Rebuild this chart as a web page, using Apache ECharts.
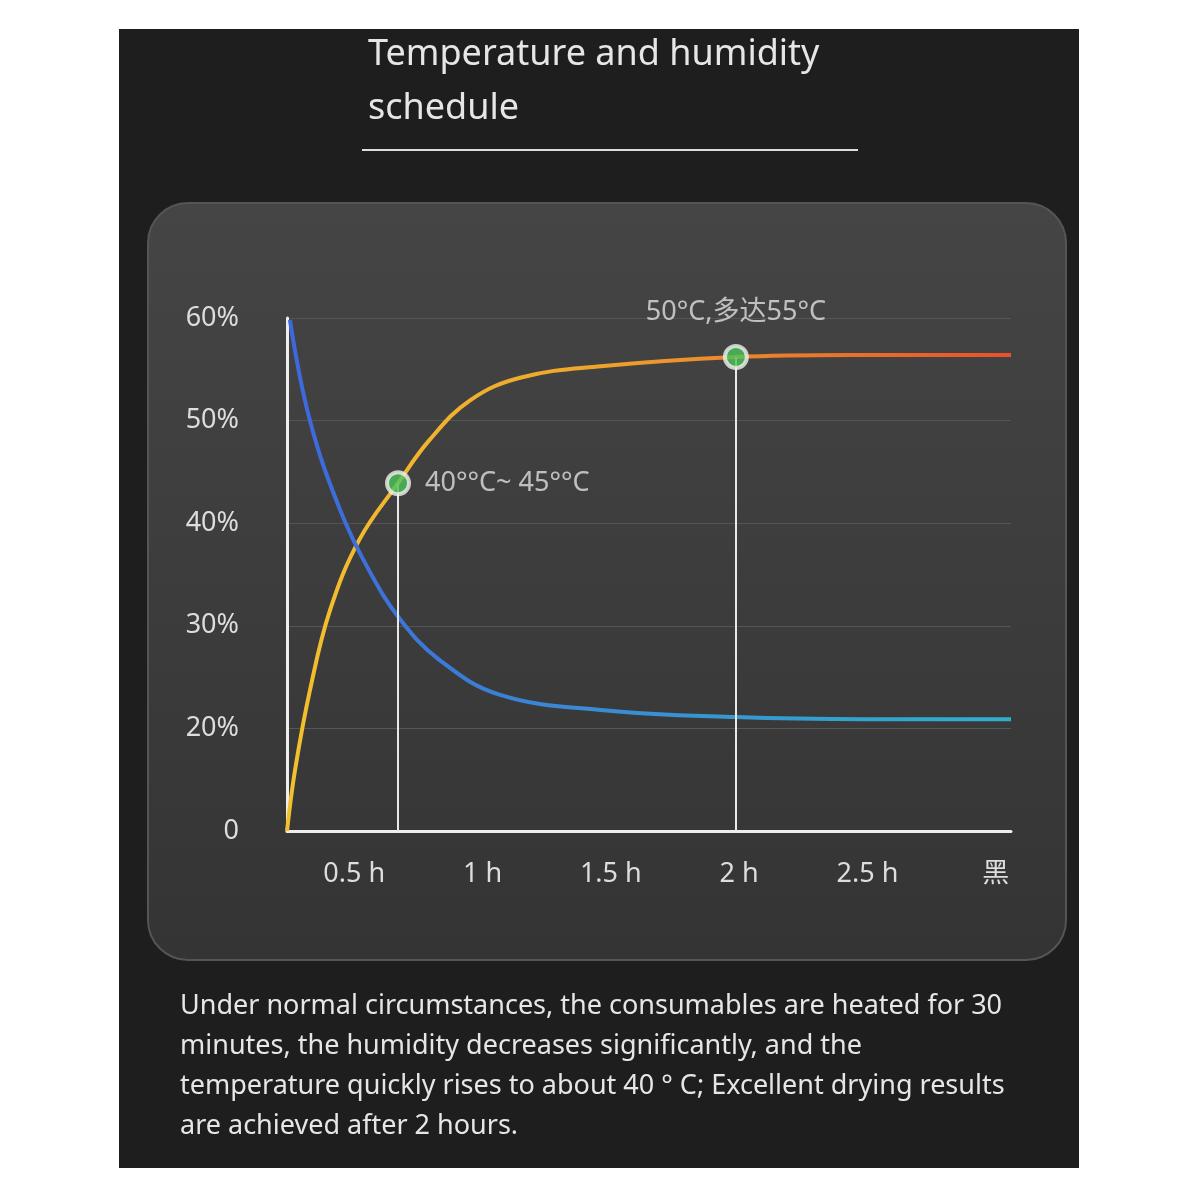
<!DOCTYPE html>
<html>
<head>
<meta charset="utf-8">
<script src="https://cdn.jsdelivr.net/npm/echarts@6/dist/echarts.min.js"></script>
<style>html,body{margin:0;background:#fff}#main{width:1200px;height:1200px}</style>
</head>
<body>
<div id="main"></div>
<script>
// x in hours-ish units across the plot, y in tick steps (labels are uneven)
const yTickLabels = ['0', '20%', '30%', '40%', '50%', '60%'];
const xTickLabels = ['0.5 h', '1 h', '1.5 h', '2 h', '2.5 h', '黑'];
const temperature = [[0, 0], [0.033, 0.59], [0.095, 1.37], [0.178, 2.15], [0.30, 2.84], [0.46, 3.39],
  [0.59, 3.81], [0.76, 4.20], [0.97, 4.42], [1.30, 4.53], [1.86, 4.62], [2.33, 4.64], [3, 4.64]];
const humidity = [[0.012, 4.98], [0.095, 4.0], [0.22, 3.13], [0.34, 2.54], [0.47, 2.06], [0.63, 1.67],
  [0.88, 1.33], [1.30, 1.18], [1.86, 1.11], [2.4, 1.09], [3, 1.09]];
const markers = [[0.46, 3.39, '40°°C~ 45°°C'], [1.86, 4.62, '50°C,多达55°C']];

const bodyText = [
  'Under normal circumstances, the consumables are heated for 30',
  'minutes, the humidity decreases significantly, and the',
  'temperature quickly rises to about 40 ° C; Excellent drying results',
  'are achieved after 2 hours.',
];

const chart = echarts.init(document.getElementById('main'));
const font = '"Noto Sans", "Noto Sans CJK SC", sans-serif';

chart.setOption({
  backgroundColor: '#fff',
  graphic: [
    { type: 'rect', z: -10, shape: { x: 119, y: 29, width: 960, height: 1139 }, style: { fill: '#1e1e1e' } },
    { type: 'rect', z: -9, shape: { x: 148, y: 203, width: 918, height: 757, r: 40 },
      style: { fill: new echarts.graphic.LinearGradient(0, 0, 0, 1, [{ offset: 0, color: '#454545' }, { offset: 1, color: '#343434' }]),
        stroke: '#555', lineWidth: 2 } },
    { type: 'text', x: 368, y: 28, style: { text: 'Temperature and humidity\nschedule', fill: '#e6e6e6', font: '36px ' + font, lineHeight: 54 } },
    { type: 'line', shape: { x1: 362, y1: 150, x2: 858, y2: 150 }, style: { stroke: '#ddd', lineWidth: 2 } },
    ...bodyText.map((t, i) => ({ type: 'text', x: 180, y: 993 + i * 40, style: { text: t, fill: '#e6e6e6', font: '27px ' + font } })),
  ],
  grid: [
    { left: 287, right: 189, top: 318, bottom: 369 },
    { left: 290, right: 140, top: 318, bottom: 369 },
  ],
  xAxis: [
    { type: 'value', min: 0, max: 3, gridIndex: 0, axisLabel: { show: false }, axisTick: { show: false },
      splitLine: { show: false }, axisLine: { lineStyle: { color: '#eee', width: 3 } } },
    { type: 'category', gridIndex: 1, data: xTickLabels, axisLine: { show: false }, axisTick: { show: false },
      axisLabel: { color: '#ddd', fontSize: 27, fontFamily: font, margin: 30 } },
  ],
  yAxis: [
    { type: 'value', min: 0, max: 5, interval: 1, gridIndex: 0,
      axisLine: { show: true, lineStyle: { color: '#eee', width: 3 } }, axisTick: { show: false },
      axisLabel: { color: '#ddd', fontSize: 27, fontFamily: font, margin: 48, formatter: (v) => yTickLabels[v] },
      splitLine: { lineStyle: { color: '#555', width: 1 } } },
    { type: 'value', gridIndex: 1, show: false },
  ],
  series: [
    { type: 'line', data: temperature, smooth: 0.4, symbol: 'none',
      lineStyle: { width: 4, color: new echarts.graphic.LinearGradient(0, 0, 1, 0, [{ offset: 0, color: '#f2c02e' }, { offset: 0.4, color: '#efa72c' }, { offset: 1, color: '#e8502a' }]) },
      markLine: { symbol: 'none', silent: true, label: { show: false },
        lineStyle: { color: '#e8e8e8', width: 2, type: 'solid' },
        data: markers.map((m) => [{ coord: [m[0], 0] }, { coord: [m[0], m[1]] }]) } },
    { type: 'line', data: humidity, smooth: 0.4, symbol: 'none',
      lineStyle: { width: 4, color: new echarts.graphic.LinearGradient(0, 0, 1, 0, [{ offset: 0, color: '#3d68dc' }, { offset: 0.4, color: '#3a8ad4' }, { offset: 1, color: '#2fb0cc' }]) } },
    { type: 'scatter', data: markers.map((m) => ({ value: [m[0], m[1]], name: m[2] })), symbolSize: 22, z: 5,
      itemStyle: { color: '#4cc35a', borderColor: '#f0f0f0', borderWidth: 4 },
      label: { show: true, formatter: '{b}', color: '#e0e0e0', fontSize: 27, fontFamily: font,
        position: (p) => p },
    },
  ],
});
// label positions per marker
chart.setOption({ series: [{}, {}, { data: [
  { value: [markers[0][0], markers[0][1]], name: markers[0][2], label: { position: 'right', distance: 14 } },
  { value: [markers[1][0], markers[1][1]], name: markers[1][2], label: { position: 'top', distance: 18 } },
] }] });
</script>
</body>
</html>
